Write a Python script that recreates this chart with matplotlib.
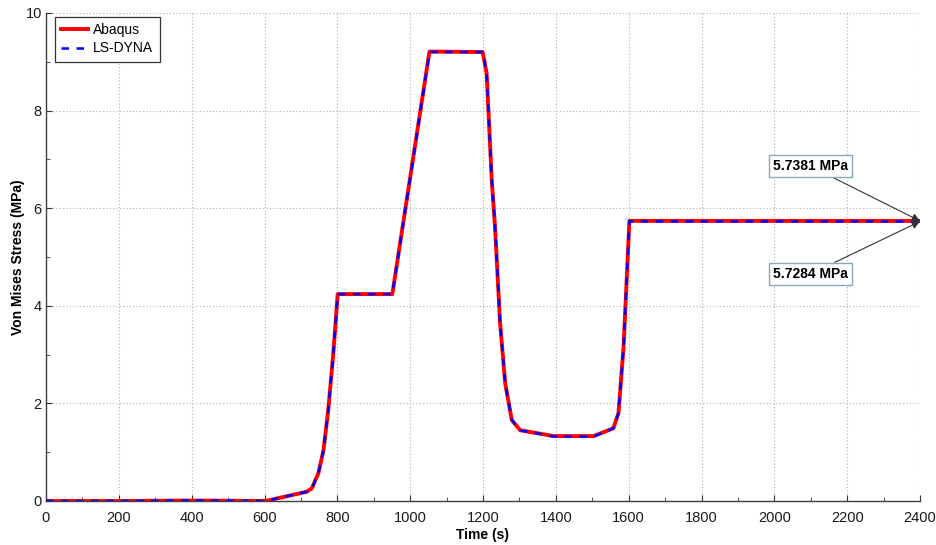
import matplotlib
matplotlib.use("Agg")
import matplotlib.pyplot as plt
from matplotlib.ticker import MultipleLocator

# Data (time in s, stress in MPa)
time_abaqus = [0, 200, 400, 600, 615, 716, 730, 748, 762, 775, 789, 801, 951, 1053,
               1199, 1203, 1210, 1224, 1233, 1247, 1261, 1279, 1302, 1394, 1504, 1558,
               1572, 1586, 1602, 2400]
stress_abaqus = [0.0, 0.0, 0.01, 0.0, 0.02, 0.19, 0.26, 0.57, 1.04, 1.86, 3.03, 4.24,
                 4.24, 9.21, 9.2, 9.05, 8.76, 6.58, 5.62, 3.64, 2.41, 1.66, 1.45, 1.33,
                 1.33, 1.49, 1.80, 3.16, 5.74, 5.7381]
time_lsdyna = [0, 200, 400, 600, 615, 716, 730, 748, 762, 775, 789, 801, 951, 1053,
               1199, 1203, 1210, 1224, 1233, 1247, 1261, 1279, 1302, 1394, 1504, 1558,
               1572, 1586, 1602, 2400]
stress_lsdyna = [0.0, 0.0, 0.01, 0.0, 0.02, 0.19, 0.26, 0.57, 1.04, 1.86, 3.03, 4.24,
                 4.24, 9.20, 9.2, 9.05, 8.76, 6.58, 5.62, 3.64, 2.41, 1.66, 1.45, 1.32,
                 1.32, 1.49, 1.80, 3.16, 5.73, 5.7284]
series_labels = ["Abaqus", "LS-DYNA"]
annot_labels = ["5.7381 MPa", "5.7284 MPa"]
annot_text_pos = [(2099, 6.86), (2099, 4.65)]

plt.rcParams['font.family'] = ['Liberation Sans', 'DejaVu Sans']

fig = plt.figure(figsize=(9.36, 5.45), dpi=100)
ax = fig.add_axes([46/936, 44/545, 874/936, 488/545])

ax.plot(time_abaqus, stress_abaqus, color='#ff0000', lw=2.8, ls='-',
        label=series_labels[0], zorder=3)
ax.plot(time_lsdyna, stress_lsdyna, color='#0000ff', lw=1.8, ls=(0, (3, 3)),
        label=series_labels[1], zorder=4)

ax.set_xlim(0, 2400)
ax.set_ylim(0, 10)
ax.xaxis.set_major_locator(MultipleLocator(200))
ax.xaxis.set_minor_locator(MultipleLocator(100))
ax.yaxis.set_major_locator(MultipleLocator(2))
ax.yaxis.set_minor_locator(MultipleLocator(1))
ax.grid(True, which='major', color='#b0b0b0', ls=(0, (1, 2)), lw=0.8)
ax.tick_params(which='both', direction='in', colors='#333333', labelsize=10.5,
               labelcolor='#1a1a1a')
ax.tick_params(which='major', length=4)
ax.tick_params(which='minor', length=3)
ax.tick_params(axis='x', which='major', pad=7)
ax.tick_params(axis='y', which='major', pad=3)
for s in ['top', 'right']:
    ax.spines[s].set_visible(False)
for s in ['left', 'bottom']:
    ax.spines[s].set_color('#404040')
    ax.spines[s].set_linewidth(1.0)

ax.set_xlabel('Time (s)', fontweight='bold', fontsize=10, labelpad=2)
ax.set_ylabel('Von Mises Stress (MPa)', fontweight='bold', fontsize=10, labelpad=0.5)

leg = ax.legend(loc='upper left', fontsize=10, fancybox=False, framealpha=1,
                edgecolor='#333333', handlelength=1.9, handletextpad=0.4,
                borderpad=0.45, labelspacing=0.3, borderaxespad=0,
                bbox_to_anchor=(9/874, 1 - 4/488))
leg.get_frame().set_linewidth(0.9)

ends = [(time_abaqus[-1], stress_abaqus[-1]), (time_lsdyna[-1], stress_lsdyna[-1])]
for lab, tpos, end in zip(annot_labels, annot_text_pos, ends):
    ax.annotate(lab, xy=end, xytext=tpos, fontsize=10, fontweight='bold',
                ha='center', va='center',
                bbox=dict(boxstyle='square,pad=0.3', fc='white', ec='#86aabb', lw=1),
                arrowprops=dict(arrowstyle='-|>', color='#333333', lw=0.8,
                                mutation_scale=12, shrinkA=0, shrinkB=0),
                annotation_clip=False, zorder=6)

fig.savefig('out.png', dpi=100)
